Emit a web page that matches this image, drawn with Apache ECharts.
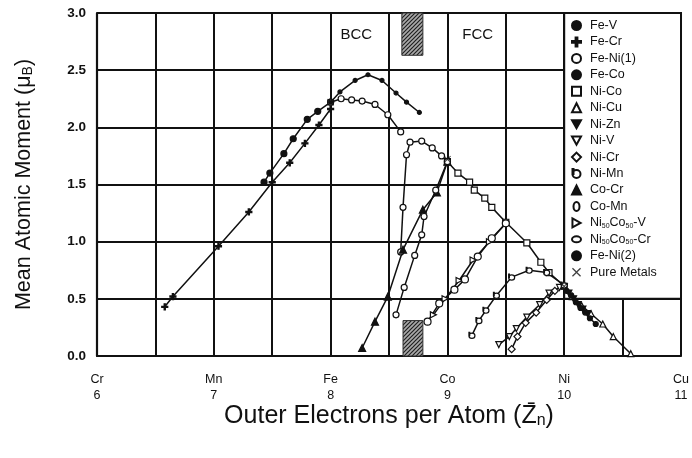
<!DOCTYPE html>
<html>
<head>
<meta charset="utf-8">
<script src="https://cdn.jsdelivr.net/npm/echarts@6/dist/echarts.min.js"></script>
<style>
  html, body { margin: 0; padding: 0; background: #fff; }
  #chart { width: 692px; height: 458px; }
</style>
</head>
<body>
<div id="chart"></div>
<script>
  // x tick labels (element + outer electron count)
  var elementNames = ['Cr', 'Mn', 'Fe', 'Co', 'Ni', 'Cu'];
  var electronTicks = [6, 7, 8, 9, 10, 11];

  // alloy series, [electrons per atom, moment]
  var feV = [[7.43, 1.52], [7.48, 1.6], [7.6, 1.77], [7.68, 1.9], [7.8, 2.07], [7.89, 2.14], [8.0, 2.22]];
  var feCr = [[6.58, 0.43], [6.65, 0.52], [7.04, 0.96], [7.3, 1.26], [7.5, 1.52], [7.65, 1.69], [7.78, 1.86], [7.9, 2.02], [8.0, 2.16]];
  var feNi1 = [[8.0, 2.22], [8.09, 2.25], [8.18, 2.24], [8.27, 2.23], [8.38, 2.2], [8.49, 2.11], [8.6, 1.96], null,
               [8.6, 0.91], [8.62, 1.3], [8.65, 1.76], [8.68, 1.87], [8.78, 1.88], [8.87, 1.82], [8.95, 1.75]];
  var feCo = [[8.0, 2.22], [8.08, 2.31], [8.21, 2.41], [8.32, 2.46], [8.44, 2.41], [8.56, 2.3], [8.65, 2.22], [8.76, 2.13]];
  var niCo = [[9.0, 1.7], [9.09, 1.6], [9.19, 1.52], [9.23, 1.45], [9.32, 1.38], [9.38, 1.3], [9.5, 1.17], [9.68, 0.99], [9.8, 0.82], [9.87, 0.73], [10.0, 0.61]];
  var niCu = [[10.0, 0.61], [10.07, 0.52], [10.15, 0.44], [10.23, 0.37], [10.33, 0.28], [10.42, 0.17], [10.57, 0.02]];
  var niZn = [[10.0, 0.6], [10.04, 0.55], [10.08, 0.5], [10.12, 0.45], [10.16, 0.41], [10.2, 0.37]];
  var niV = [[10.0, 0.6], [9.96, 0.6], [9.87, 0.55], [9.79, 0.45], [9.68, 0.34], [9.59, 0.24], [9.53, 0.17], [9.44, 0.1]];
  var niCr = [[9.92, 0.57], [9.85, 0.49], [9.76, 0.38], [9.67, 0.29], [9.6, 0.17], [9.55, 0.06]];
  var niMn = [[10.0, 0.62], [9.85, 0.73], [9.7, 0.75], [9.55, 0.69], [9.42, 0.53], [9.33, 0.4], [9.27, 0.31], [9.21, 0.18]];
  var coCr = [[9.0, 1.7], [8.91, 1.43], [8.79, 1.28], [8.62, 0.93], [8.49, 0.52], [8.38, 0.3], [8.27, 0.07]];
  var coMn = [[9.0, 1.7], [8.9, 1.45], [8.8, 1.22], [8.78, 1.06], [8.72, 0.88], [8.63, 0.6], [8.56, 0.36]];
  var ni50co50V = [[9.5, 1.16], [9.36, 1.0], [9.22, 0.84], [9.1, 0.66], [8.98, 0.5], [8.88, 0.36]];
  var ni50co50Cr = [[9.5, 1.16], [9.38, 1.03], [9.26, 0.87], [9.15, 0.67], [9.06, 0.58], [8.93, 0.46], [8.83, 0.3]];
  var feNi2 = [[10.02, 0.57], [10.06, 0.53], [10.1, 0.47], [10.14, 0.42], [10.18, 0.38], [10.22, 0.33], [10.27, 0.28]];
  var pureMetals = [[8.0, 2.22], [9.0, 1.72], [10.0, 0.61]];

  // structure bands / labels
  var hatchTop = [[8.61, 2.63], [8.79, 3.0]];
  var hatchBottom = [[8.62, 0.0], [8.79, 0.31]];
  var phaseLabels = [['BCC', 8.22, 2.81], ['FCC', 9.26, 2.81]];

  var sym = {
    plus: 'path://M4,0H6V4H10V6H6V10H4V6H0V4H4Z',
    cross: 'path://M1,0L5,4L9,0L10,1L6,5L10,9L9,10L5,6L1,10L0,9L4,5L0,1Z',
    down: 'path://M0,0L10,0L5,9Z',
    right: 'path://M0,0L9,5L0,10Z',
    wide: 'path://M0,4A6,4,0,1,1,12,4A6,4,0,1,1,0,4Z',
    tall: 'path://M0,6A4,6,0,1,1,8,6A4,6,0,1,1,0,6Z',
    hook: 'path://M1,5A4,4,0,1,1,9,5A4,4,0,1,1,1,5ZM1,5L1,0L2,0L2,5Z'
  };

  var hatch = document.createElement('canvas');
  hatch.width = 4; hatch.height = 4;
  var hc = hatch.getContext('2d');
  hc.fillStyle = '#aaa';
  hc.fillRect(0, 0, 4, 4);
  hc.strokeStyle = '#222';
  hc.lineWidth = 1.2;
  hc.beginPath(); hc.moveTo(0, 4); hc.lineTo(4, 0); hc.stroke();
  hc.beginPath(); hc.moveTo(-1, 1); hc.lineTo(1, -1); hc.stroke();
  hc.beginPath(); hc.moveTo(3, 5); hc.lineTo(5, 3); hc.stroke();

  function alloy(name, data, symbol, size, filled) {
    return {
      name: name,
      type: 'line',
      data: data,
      symbol: symbol,
      symbolSize: size,
      showAllSymbol: true,
      connectNulls: false,
      lineStyle: { color: '#111', width: 1.5 },
      itemStyle: { color: filled ? '#111' : '#fff', borderColor: '#111', borderWidth: 1.2 },
      z: 3
    };
  }

  var series = [
    {
      name: 'frame',
      type: 'line',
      data: [],
      z: 1,
      markArea: {
        silent: true,
        data: [
          [{ coord: [10, 0.5], itemStyle: { color: '#fff', borderColor: '#111', borderWidth: 2 } }, { coord: [11, 3] }],
          [{ coord: hatchTop[0], itemStyle: { color: { image: hatch, repeat: 'repeat' }, borderColor: '#333', borderWidth: 1 } }, { coord: hatchTop[1] }],
          [{ coord: hatchBottom[0], itemStyle: { color: { image: hatch, repeat: 'repeat' }, borderColor: '#333', borderWidth: 1 } }, { coord: hatchBottom[1] }]
        ]
      },
      markPoint: {
        silent: true,
        symbol: 'circle',
        symbolSize: 1,
        itemStyle: { color: 'rgba(0,0,0,0)' },
        label: { show: true, position: 'inside', formatter: '{b}', color: '#111', fontSize: 15, fontFamily: 'Liberation Sans, Arial, sans-serif' },
        data: phaseLabels.map(function (p) { return { name: p[0], coord: [p[1], p[2]] }; })
      }
    },
    alloy('Fe-V', feV, 'circle', 6, true),
    alloy('Fe-Cr', feCr, sym.plus, 6, true),
    alloy('Fe-Ni(1)', feNi1, 'circle', 6, false),
    alloy('Fe-Co', feCo, 'circle', 4, true),
    alloy('Ni-Co', niCo, 'rect', 6, false),
    alloy('Ni-Cu', niCu, 'triangle', 6, false),
    alloy('Ni-Zn', niZn, sym.down, 6, true),
    alloy('Ni-V', niV, sym.down, 6, false),
    alloy('Ni-Cr', niCr, 'diamond', 7, false),
    alloy('Ni-Mn', niMn, sym.hook, 6, false),
    alloy('Co-Cr', coCr, 'triangle', 7, true),
    alloy('Co-Mn', coMn, sym.tall, 6, false),
    alloy('Ni50Co50-V', ni50co50V, sym.right, 6, false),
    alloy('Ni50Co50-Cr', ni50co50Cr, sym.wide, 7, false),
    alloy('Fe-Ni(2)', feNi2, 'circle', 5, true),
    {
      name: 'Pure Metals',
      type: 'scatter',
      data: pureMetals,
      symbol: sym.cross,
      symbolSize: 7,
      itemStyle: { color: '#111' },
      z: 4
    }
  ];

  var legendNames = ['Fe-V', 'Fe-Cr', 'Fe-Ni(1)', 'Fe-Co', 'Ni-Co', 'Ni-Cu', 'Ni-Zn', 'Ni-V', 'Ni-Cr', 'Ni-Mn',
                     'Co-Cr', 'Co-Mn', 'Ni50Co50-V', 'Ni50Co50-Cr', 'Fe-Ni(2)', 'Pure Metals'];
  var legendData = legendNames.map(function (n) {
    var s = series.filter(function (x) { return x.name === n; })[0];
    return { name: n, icon: s.symbol };
  });

  var chart = echarts.init(document.getElementById('chart'));
  var option = {
    animation: false,
    textStyle: { fontFamily: 'Liberation Sans, Arial, sans-serif' },
    grid: { left: 97, right: 10, top: 13, bottom: 102 },
    legend: {
      data: legendData,
      orient: 'vertical',
      left: 566,
      top: 14,
      itemWidth: 9,
      itemHeight: 9,
      itemGap: 3.45,
      textStyle: {
        fontSize: 12.5,
        color: '#111',
        padding: [0, 0, 0, 4],
        rich: { s: { fontSize: 7, verticalAlign: 'bottom', padding: [3, 0, 0, 0] } }
      },
      formatter: function (name) {
        return name.replace(/50/g, '{s|50}');
      }
    },
    xAxis: {
      type: 'value',
      min: 6,
      max: 11,
      interval: 0.5,
      name: 'Outer Electrons per Atom (Z\u0304{n|n})',
      nameLocation: 'middle',
      nameMoveOverlap: false,
      nameGap: 48,
      nameTextStyle: {
        fontSize: 25,
        color: '#111',
        rich: { n: { fontSize: 16, verticalAlign: 'bottom', padding: [9, 0, 0, 0] } }
      },
      axisLine: { lineStyle: { color: '#111', width: 2.2 } },
      axisTick: { show: false },
      splitLine: { show: true, lineStyle: { color: '#111', width: 2 } },
      axisLabel: {
        margin: 16,
        fontSize: 12.5,
        lineHeight: 16,
        color: '#111',
        formatter: function (v) {
          var i = electronTicks.indexOf(v);
          return i < 0 ? '' : elementNames[i] + '\n' + v;
        }
      }
    },
    yAxis: {
      type: 'value',
      min: 0,
      max: 3,
      interval: 0.5,
      name: 'Mean Atomic Moment (\u03bc{b|B})',
      nameLocation: 'middle',
      nameGap: 62,
      nameRotate: 90,
      nameTextStyle: {
        fontSize: 21.5,
        color: '#111',
        rich: { b: { fontSize: 14, verticalAlign: 'bottom', padding: [8, 0, 0, 0] } }
      },
      axisLine: { show: true, lineStyle: { color: '#111', width: 2.2 } },
      axisTick: { show: false },
      splitLine: { show: true, lineStyle: { color: '#111', width: 2 } },
      axisLabel: {
        margin: 11,
        fontSize: 13.5,
        fontWeight: 'bold',
        color: '#111',
        formatter: function (v) { return v.toFixed(1); }
      }
    },
    series: series
  };
  chart.setOption(option);
</script>
</body>
</html>
